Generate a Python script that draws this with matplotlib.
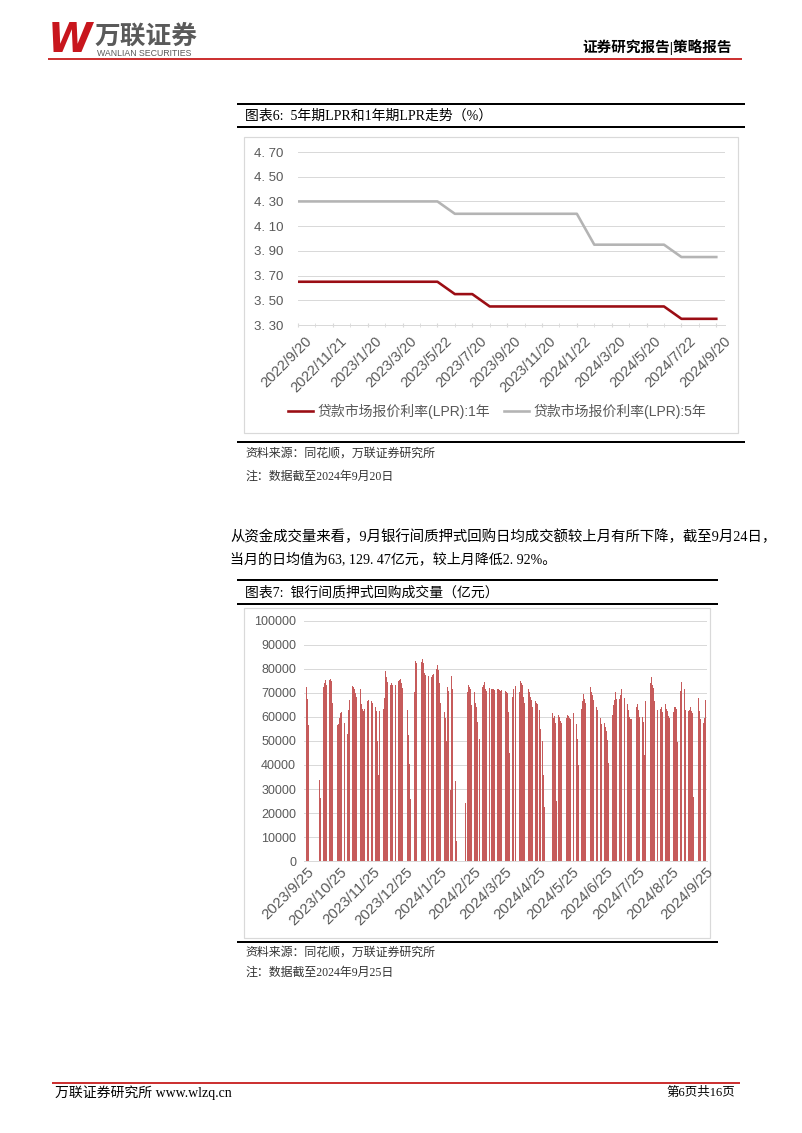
import matplotlib
matplotlib.use('Agg')
import matplotlib.pyplot as plt
from matplotlib.patches import Rectangle
from matplotlib.transforms import ScaledTranslation
import pandas as pd

SANS = ['Liberation Sans', 'Noto Sans CJK SC']
SERIF = ['Liberation Serif', 'Noto Sans CJK SC']
plt.rcParams['font.family'] = SANS

#%% data: LPR (chart 6)
lpr_dates = ['2022/9/20', '2022/10/20', '2022/11/21', '2022/12/20', '2023/1/20',
             '2023/2/20', '2023/3/20', '2023/4/20', '2023/5/22', '2023/6/20',
             '2023/7/20', '2023/8/21', '2023/9/20', '2023/10/20', '2023/11/20',
             '2023/12/20', '2024/1/22', '2024/2/20', '2024/3/20', '2024/4/22',
             '2024/5/20', '2024/6/20', '2024/7/22', '2024/8/20', '2024/9/20']
lpr_1y = [3.65, 3.65, 3.65, 3.65, 3.65, 3.65, 3.65, 3.65, 3.65, 3.55,
          3.55, 3.45, 3.45, 3.45, 3.45, 3.45, 3.45, 3.45, 3.45, 3.45,
          3.45, 3.45, 3.35, 3.35, 3.35]
lpr_5y = [4.30, 4.30, 4.30, 4.30, 4.30, 4.30, 4.30, 4.30, 4.30, 4.20,
          4.20, 4.20, 4.20, 4.20, 4.20, 4.20, 4.20, 3.95, 3.95, 3.95,
          3.95, 3.95, 3.85, 3.85, 3.85]
lpr_labels = ['贷款市场报价利率(LPR):1年', '贷款市场报价利率(LPR):5年']

#%% data: interbank pledged repo volume (chart 7), one list per trading week
week_starts = ['2023-09-25', '2023-10-07', '2023-10-16', '2023-10-23', '2023-10-30',
               '2023-11-06', '2023-11-13', '2023-11-20', '2023-11-27', '2023-12-04',
               '2023-12-11', '2023-12-18', '2023-12-25', '2024-01-02', '2024-01-08',
               '2024-01-15', '2024-01-22', '2024-01-29', '2024-02-04', '2024-02-18',
               '2024-02-26', '2024-03-04', '2024-03-11', '2024-03-18', '2024-03-25',
               '2024-04-01', '2024-04-07', '2024-04-15', '2024-04-22', '2024-04-28',
               '2024-05-06', '2024-05-13', '2024-05-20', '2024-05-27', '2024-06-03',
               '2024-06-11', '2024-06-17', '2024-06-24', '2024-07-01', '2024-07-08',
               '2024-07-15', '2024-07-22', '2024-07-29', '2024-08-05', '2024-08-12',
               '2024-08-19', '2024-08-26', '2024-09-02', '2024-09-09', '2024-09-18',
               '2024-09-23']
week_values = [
    [72500, 67500, 56500, 32500],
    [33800, 26200, 65500, 72500, 74000, 75500, 73500],
    [75500, 76000, 75000, 66000, 57500],
    [56500, 57000, 59500, 61500, 62000],
    [57500, 38000, 53000, 63000, 67000],
    [73000, 72500, 71500, 70000, 68500],
    [71500, 65500, 63500, 62500, 63500],
    [66500, 67000, 66500, 66500, 66000],
    [64000, 62500, 50000, 36000, 62500],
    [63500, 68000, 79000, 76500, 74500],
    [73500, 74000, 73500, 74000, 73500],
    [75000, 75500, 76000, 74000, 72000],
    [69500, 63000, 52500, 40500, 25800],
    [70500, 83500, 82500, 78500],
    [83000, 84000, 82500, 78500, 77500],
    [77000, 76000, 76500, 77500, 78000],
    [80000, 81500, 79500, 74000, 66000],
    [62000, 59500, 50000, 72500, 71000],
    [29500, 77000, 71500, 58000, 33500, 8200],
    [24300, 70500, 73500, 72500, 71500, 65000],
    [70500, 66000, 64000, 58000, 51000],
    [72500, 73500, 74500, 71500, 71000],
    [72000, 71800, 71500, 71500, 71200],
    [71500, 71500, 71200, 70800, 71200],
    [71000, 70500, 70000, 62000, 45000],
    [68500, 71500, 73000],
    [70500, 75000, 74000, 73500, 68500, 66000],
    [71500, 70500, 68500, 67000, 64000],
    [66500, 66000, 65500, 63000, 55000],
    [50000, 36000, 22500],
    [64500, 61500, 59500, 60500, 57500, 25000],
    [61000, 60000, 58500, 57500, 57000],
    [59500, 61000, 60500, 59500, 59000],
    [61500, 60000, 57000, 51000, 40000],
    [63500, 66500, 69500, 67500, 66000],
    [72500, 70500, 69000, 67000],
    [64000, 63000, 62000, 59500, 57000],
    [57500, 56000, 54000, 50500, 41000],
    [61000, 65000, 67000, 70500, 67500],
    [67500, 69000, 71500, 72000, 68000],
    [65500, 63000, 60000, 59000, 59000],
    [60000, 64000, 65500, 63000, 60000],
    [60000, 58000, 44000, 66500, 71000],
    [74000, 76500, 73500, 72000, 66500],
    [63000, 59500, 63500, 64000, 62000],
    [65500, 63500, 62500, 60500, 59500],
    [62000, 64000, 64000, 63500, 49500],
    [71000, 74500, 72500, 71500, 63000],
    [62500, 63000, 64000, 62500, 61500, 26500],
    [68000, 62500, 59000],
    [57500, 59500, 67000],
]
repo_ticks = ['2023-09-25', '2023-10-25', '2023-11-25', '2023-12-25', '2024-01-25',
              '2024-02-25', '2024-03-25', '2024-04-25', '2024-05-25', '2024-06-25',
              '2024-07-25', '2024-08-25', '2024-09-25']

# trading days inside each week are consecutive calendar days
repo_dates, repo_vals = [], []
for start, vals in zip(week_starts, week_values):
    for i, v in enumerate(vals):
        repo_dates.append(pd.Timestamp(start) + pd.Timedelta(days=i))
        repo_vals.append(v)

#%% page setup (pixel coords, y down)
W, H = 802, 1133
fig = plt.figure(figsize=(W / 100, H / 100), dpi=100)
page = fig.add_axes([0, 0, 1, 1])
page.set_xlim(0, W)
page.set_ylim(H, 0)
page.axis('off')


def px(p):
    # pixel -> points
    return p * 0.72


def add_ax(x0, y0, x1, y1):
    return fig.add_axes([x0 / W, 1 - y1 / H, (x1 - x0) / W, (y1 - y0) / H])


def rule(x0, x1, y, lw=2, color='black'):
    page.plot([x0, x1], [y, y], color=color, lw=px(lw), solid_capstyle='butt')


def shift_labels(labels, dx_px, dy_px=0):
    for lbl in labels:
        lbl.set_transform(lbl.get_transform()
                          + ScaledTranslation(dx_px / 100, -dy_px / 100, fig.dpi_scale_trans))


RED = '#c00000'
GREY_TXT = '#595959'
GRID = '#d9d9d9'

# header
page.text(48, 41, 'W', fontsize=29, fontweight='bold', style='italic', color='#c8161d',
          family='DejaVu Sans', va='center', ha='left')
page.text(95, 37, '万联证券', fontsize=18.5, fontweight='bold', color='#5a5a5a',
          family=SANS, va='center', ha='left')
page.text(97, 54, 'WANLIAN SECURITIES', fontsize=6.3, color='#5a5a5a',
          family=SANS, va='center', ha='left')
page.text(732, 47, '证券研究报告|策略报告', fontsize=10.5, fontweight='bold',
          family=SERIF, va='center', ha='right')
rule(48, 742, 59, lw=1.6, color=RED)

#%% chart 6 block
rule(237, 745, 104)
page.text(245, 116, '图表6:  5年期LPR和1年期LPR走势（%）', fontsize=10, family=SERIF,
          va='center', ha='left')
rule(237, 745, 127)
page.add_patch(Rectangle((244, 137), 494, 296, fill=False, ec=GRID, lw=px(1.2)))

ax6 = add_ax(298, 152, 725, 325)
xs = list(range(len(lpr_dates)))
ax6.plot(xs, lpr_1y, color='#9b0d14', lw=px(2.6), label=lpr_labels[0])
ax6.plot(xs, lpr_5y, color='#b4b4b4', lw=px(2.6), label=lpr_labels[1])
ax6.set_xlim(0, 24.5)
ax6.set_ylim(3.30, 4.70)
yt6 = [3.30, 3.50, 3.70, 3.90, 4.10, 4.30, 4.50, 4.70]
ax6.set_yticks(yt6)
ax6.set_yticklabels([f'{v:.2f}'.replace('.', '. ') for v in yt6])
ax6.set_xticks(xs[::2])
ax6.set_xticklabels(lpr_dates[::2], rotation=45, ha='right', va='top',
                    rotation_mode='anchor')
ax6.set_xticks(xs, minor=True)
ax6.grid(axis='y', color=GRID, lw=px(1))
ax6.set_axisbelow(True)
for s in ['top', 'right', 'left']:
    ax6.spines[s].set_visible(False)
ax6.spines['bottom'].set_color(GRID)
ax6.spines['bottom'].set_linewidth(px(1))
ax6.tick_params(axis='y', length=0, pad=px(15), labelsize=9.5, labelcolor=GREY_TXT)
ax6.tick_params(axis='x', which='both', length=3, direction='inout', color=GRID,
                pad=4, labelsize=10.5, labelcolor=GREY_TXT)
shift_labels(ax6.get_xticklabels(), 7, 1)
ax6.legend(loc='center', bbox_to_anchor=(497 / W, 1 - 411 / H),
           bbox_transform=fig.transFigure, ncol=2, frameon=False,
           fontsize=10, handlelength=1.8, handletextpad=0.3, columnspacing=1.0,
           labelcolor=GREY_TXT)

rule(237, 745, 442)
page.text(245, 454, '资料来源：同花顺，万联证券研究所', fontsize=8.6, family=SERIF,
          va='center', ha='left', color='#333333')
page.text(245, 477, '注：数据截至2024年9月20日', fontsize=8.6, family=SERIF,
          va='center', ha='left', color='#333333')

#%% paragraph
page.text(230, 537, '从资金成交量来看，9月银行间质押式回购日均成交额较上月有所下降，截至9月24日，',
          fontsize=10.4, family=SERIF, va='center', ha='left')
page.text(230, 560, '当月的日均值为63, 129. 47亿元，较上月降低2. 92%。',
          fontsize=10.1, family=SERIF, va='center', ha='left')

#%% chart 7 block
rule(237, 718, 580)
page.text(245, 593, '图表7:  银行间质押式回购成交量（亿元）', fontsize=10, family=SERIF,
          va='center', ha='left')
rule(237, 718, 604)
page.add_patch(Rectangle((244, 608), 466, 330, fill=False, ec=GRID, lw=px(1.2)))

ax7 = add_ax(304, 621, 707, 861)
ax7.bar(repo_dates, repo_vals, width=0.85, color='#c65b5b', linewidth=0)
ax7.set_xlim(pd.Timestamp('2023-09-22 12:00'), pd.Timestamp('2024-09-26'))
ax7.set_ylim(0, 100000)
ax7.set_yticks(range(0, 100001, 10000))
tick_dates = [pd.Timestamp(t) for t in repo_ticks]
ax7.set_xticks(tick_dates)
ax7.set_xticklabels([f'{d.year}/{d.month}/{d.day}' for d in tick_dates], rotation=45,
                    ha='right', va='top', rotation_mode='anchor')
ax7.grid(axis='y', color=GRID, lw=px(1))
ax7.set_axisbelow(True)
for s in ['top', 'right', 'left']:
    ax7.spines[s].set_visible(False)
ax7.spines['bottom'].set_color(GRID)
ax7.spines['bottom'].set_linewidth(px(1))
ax7.tick_params(axis='y', length=0, pad=px(8), labelsize=9, labelcolor=GREY_TXT)
ax7.tick_params(axis='x', length=0, pad=3, labelsize=10.8, labelcolor=GREY_TXT)

rule(237, 718, 942)
page.text(245, 953, '资料来源：同花顺，万联证券研究所', fontsize=8.6, family=SERIF,
          va='center', ha='left', color='#333333')
page.text(245, 973, '注：数据截至2024年9月25日', fontsize=8.6, family=SERIF,
          va='center', ha='left', color='#333333')

#%% footer
rule(52, 740, 1083, lw=1.6, color=RED)
page.text(55, 1093, '万联证券研究所 www.wlzq.cn', fontsize=10, family=SERIF,
          va='center', ha='left')
page.text(735, 1093, '第6页共16页', fontsize=9, family=SERIF, va='center', ha='right')

fig.savefig('out.png', dpi=100)
